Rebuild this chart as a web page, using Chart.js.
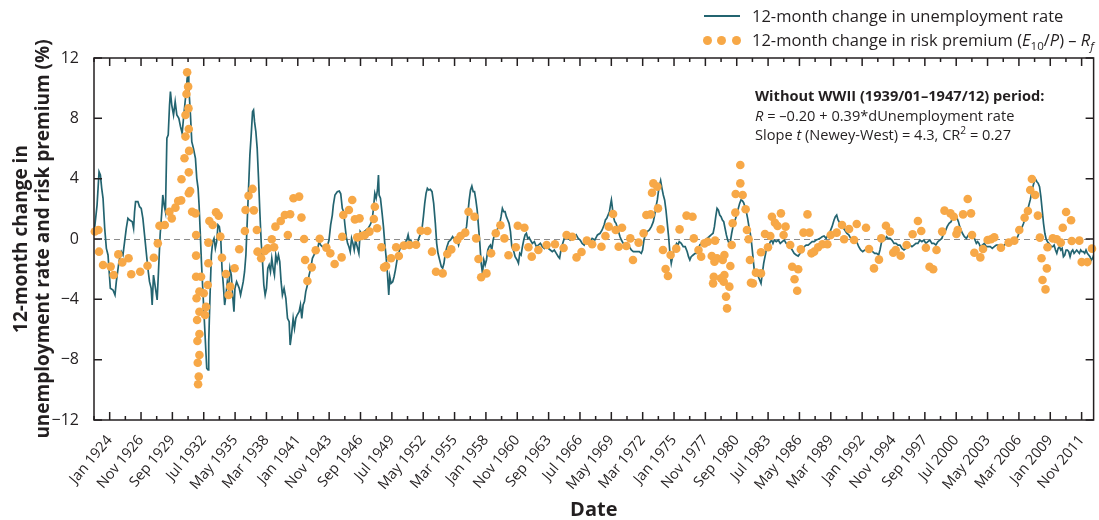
<!DOCTYPE html>
<html lang="en">
  <head>
    <meta charset="UTF-8" />
    <title>Unemployment rate vs risk premium</title>
    <script src="https://cdn.jsdelivr.net/npm/chart.js"></script>
    <style>
      body {
        margin: 0;
        background: #fff;
        font-family: "Open Sans", sans-serif;
        color: #231f20;
      }
      .wrap {
        position: relative;
        width: 1099px;
        height: 520px;
        overflow: hidden;
      }
      .legend-text {
        position: absolute;
        left: 752px;
        font-size: 16.5px;
        line-height: 20px;
        white-space: nowrap;
      }
      .legend-line {
        position: absolute;
        left: 704px;
        top: 15px;
        width: 36px;
        height: 2px;
        background: #236470;
      }
      .legend-dot {
        position: absolute;
        top: 36px;
        width: 9px;
        height: 9px;
        border-radius: 50%;
        background: #f7a847;
      }
      .note {
        position: absolute;
        left: 755px;
        top: 86px;
        font-size: 14.6px;
        line-height: 19.5px;
        white-space: nowrap;
      }
      sub, sup {
        font-size: 70%;
        line-height: 0;
      }
    </style>
  </head>

  <body>
    <div class="wrap">
      <canvas id="chart" width="1099" height="520"></canvas>

      <!-- Legend -->
      <span class="legend-line"></span>
      <div class="legend-text" style="top: 6px">12-month change in unemployment rate</div>
      <span class="legend-dot" style="left: 703px"></span>
      <span class="legend-dot" style="left: 717px"></span>
      <span class="legend-dot" style="left: 732px"></span>
      <div class="legend-text" style="top: 30px">
        12-month change in risk premium (<i>E</i><sub>10</sub>/<i>P</i>) – <i>R</i><sub><i>f</i></sub>
      </div>

      <!-- Regression note -->
      <div class="note">
        <b>Without WWII (1939/01–1947/12) period:</b><br />
        <i>R</i> = –0.20 + 0.39*dUnemployment rate<br />
        Slope <i>t</i> (Newey-West) = 4.3, CR<sup>2</sup> = 0.27
      </div>
    </div>

    <script>
      // Axis range (decimal years): Aug 1922 – Dec 2012
      const xMin = 1922 + 7 / 12;
      const xMax = 2012 + 11 / 12;

      const tickLabels = [
        "Jan 1924", "Nov 1926", "Sep 1929", "Jul 1932", "May 1935", "Mar 1938",
        "Jan 1941", "Nov 1943", "Sep 1946", "Jul 1949", "May 1952", "Mar 1955",
        "Jan 1958", "Nov 1960", "Sep 1963", "Jul 1966", "May 1969", "Mar 1972",
        "Jan 1975", "Nov 1977", "Sep 1980", "Jul 1983", "May 1986", "Mar 1989",
        "Jan 1992", "Nov 1994", "Sep 1997", "Jul 2000", "May 2003", "Mar 2006",
        "Jan 2009", "Nov 2011",
      ];
      const yTicks = [-12, -8, -4, 0, 4, 8, 12];

      // 12-month change in unemployment rate: [year, %]
      const unemploymentChange = [
        [1922.59, 0.4], [1922.86, 2.25], [1923.04, 4.46], [1923.16, 4.24], [1923.28, 3.36],
        [1923.4, 2.7], [1923.55, 0.71], [1923.7, -0.62], [1923.85, -1.06], [1924.06, -3.27],
        [1924.3, -3.38], [1924.48, -3.71], [1924.6, -2.83], [1924.84, -1.5], [1925.05, -0.84],
        [1925.2, -1.06], [1925.35, -0.18], [1925.5, 0.71], [1925.65, 1.37], [1925.8, 1.26],
        [1926.04, 1.15], [1926.16, 0.71], [1926.25, 1.81], [1926.34, 2.48], [1926.55, 2.48],
        [1926.7, 2.14], [1926.85, 2.03], [1927.0, 1.37], [1927.15, 0.27], [1927.3, -0.84],
        [1927.45, -1.94], [1927.6, -2.83], [1927.75, -3.27], [1927.84, -4.38], [1927.96, -2.39],
        [1928.14, -3.27], [1928.29, -4.04], [1928.41, -2.17], [1928.56, 0.27], [1928.71, 1.81],
        [1928.8, 2.92], [1928.92, 2.25], [1929.04, 1.81], [1929.17, 6.68], [1929.29, 6.9],
        [1929.41, 8.88], [1929.49, 9.77], [1929.61, 8.88], [1929.77, 8.22], [1929.92, 9.11],
        [1930.07, 8.22], [1930.25, 8.0], [1930.4, 7.45], [1930.55, 7.01], [1930.7, 8.22],
        [1930.91, 9.77], [1931.0, 10.65], [1931.09, 10.87], [1931.15, 9.99], [1931.21, 9.33],
        [1931.3, 8.22], [1931.42, 6.45], [1931.57, 6.01], [1931.75, 5.35], [1931.87, 4.02],
        [1931.99, 3.36], [1932.08, 2.25], [1932.17, 0.71], [1932.29, -1.5], [1932.41, -3.27],
        [1932.53, -5.04], [1932.65, -6.81], [1932.77, -8.57], [1932.89, -8.68], [1932.95, -6.81],
        [1933.07, -3.71], [1933.19, -1.06], [1933.31, -0.18], [1933.43, 0.04], [1933.55, -0.62],
        [1933.67, -0.18], [1933.79, 0.93], [1933.91, 0.82], [1934.03, 0.16], [1934.15, -1.94],
        [1934.27, -3.05], [1934.39, -4.38], [1934.51, -3.71], [1934.63, -2.83], [1934.75, -3.27],
        [1934.87, -1.94], [1934.99, -2.39], [1935.11, -3.71], [1935.23, -4.82], [1935.32, -3.27],
        [1935.47, -2.83], [1935.59, -3.05], [1935.71, -3.27], [1935.83, -3.71], [1935.95, -3.27],
        [1936.07, -2.83], [1936.19, -2.17], [1936.31, -1.06], [1936.43, 1.15], [1936.55, 3.36],
        [1936.67, 5.57], [1936.79, 6.9], [1936.91, 8.44], [1937.0, 8.55], [1937.09, 7.78],
        [1937.21, 7.12], [1937.33, 6.01], [1937.45, 4.02], [1937.57, 1.81], [1937.69, -0.18],
        [1937.81, -1.5], [1937.93, -3.05], [1938.05, -3.71], [1938.17, -3.27], [1938.29, -1.94],
        [1938.41, -1.72], [1938.53, -2.17], [1938.65, -1.28], [1938.77, -1.94], [1938.89, -2.39],
        [1939.01, -1.06], [1939.13, -1.5], [1939.25, -1.06], [1939.37, -1.5], [1939.49, -2.83],
        [1939.61, -3.71], [1939.76, -3.27], [1939.92, -3.93], [1940.07, -5.26], [1940.22, -5.48],
        [1940.31, -7.03], [1940.43, -6.37], [1940.58, -5.26], [1940.7, -5.92], [1940.82, -5.26],
        [1940.94, -5.04], [1941.12, -4.82], [1941.24, -4.38], [1941.36, -5.26], [1941.48, -4.38],
        [1941.6, -4.15], [1941.72, -3.49], [1941.87, -3.05], [1942.02, -2.39], [1942.17, -1.94],
        [1942.32, -1.28], [1942.47, -1.06], [1942.62, -0.84], [1942.8, -0.62], [1942.92, -0.18],
        [1943.07, -0.4], [1943.22, -0.51], [1943.37, -0.51], [1943.52, -0.4], [1943.7, -0.4],
        [1943.82, -0.07], [1943.97, 0.93], [1944.12, 1.59], [1944.21, 2.25], [1944.36, 2.92],
        [1944.57, 3.14], [1944.75, 3.18], [1944.88, 3.0], [1945.02, 2.03], [1945.14, 1.81],
        [1945.26, 0.93], [1945.38, 0.15], [1945.5, -0.29], [1945.62, -0.51], [1945.74, -0.84],
        [1945.86, 0.04], [1945.98, -0.29], [1946.1, -0.73], [1946.22, -0.07], [1946.37, -0.51],
        [1946.52, -0.95], [1946.64, 0.49], [1946.82, 0.27], [1947.0, 0.49], [1947.18, 0.6],
        [1947.36, 0.71], [1947.54, 0.93], [1947.72, 1.26], [1947.84, 2.03], [1947.96, 3.03],
        [1948.08, 2.7], [1948.2, 3.25], [1948.29, 4.24], [1948.35, 2.92], [1948.47, 2.7],
        [1948.62, 1.7], [1948.74, 0.82], [1948.86, -0.29], [1948.98, -1.17], [1949.1, -2.28],
        [1949.22, -3.71], [1949.31, -2.5], [1949.43, -2.94], [1949.58, -2.83], [1949.7, -2.5],
        [1949.82, -2.06], [1949.97, -1.39], [1950.12, -0.95], [1950.28, -0.51], [1950.43, -0.4],
        [1950.61, -0.51], [1950.73, -0.18], [1950.85, -0.07], [1950.97, 0.27], [1951.09, -0.18],
        [1951.21, -0.07], [1951.39, -0.4], [1951.57, -0.29], [1951.75, -0.4], [1951.93, 0.04],
        [1952.11, 0.38], [1952.23, 0.71], [1952.35, 1.48], [1952.47, 2.36], [1952.59, 3.03],
        [1952.71, 3.36], [1952.83, 3.25], [1952.98, 3.29], [1953.13, 3.14], [1953.28, 2.36],
        [1953.43, 1.04], [1953.55, -0.29], [1953.67, -0.95], [1953.82, -1.39], [1953.97, -1.83],
        [1954.09, -1.94], [1954.21, -1.61], [1954.33, -0.95], [1954.48, -0.51], [1954.63, -0.18],
        [1954.81, -0.07], [1954.99, 0.15], [1955.17, -0.07], [1955.35, 0.04], [1955.53, -0.4],
        [1955.71, 0.15], [1955.89, 0.27], [1956.07, 0.38], [1956.25, 0.82], [1956.37, 1.7],
        [1956.49, 2.59], [1956.61, 3.25], [1956.73, 3.51], [1956.85, 3.14], [1956.97, 3.14],
        [1957.09, 2.59], [1957.21, 1.92], [1957.33, 0.82], [1957.45, -0.29], [1957.57, -1.61],
        [1957.69, -2.28], [1957.81, -1.39], [1957.93, -1.72], [1958.05, -1.39], [1958.17, -0.73],
        [1958.29, -0.51], [1958.41, -0.4], [1958.53, -0.73], [1958.65, -0.07], [1958.77, 0.27],
        [1958.89, 0.38], [1959.01, 0.6], [1959.13, 0.82], [1959.25, 1.04], [1959.37, 1.48],
        [1959.49, 2.03], [1959.61, 1.81], [1959.73, 1.81], [1959.85, 1.48], [1959.97, 1.26],
        [1960.09, 1.04], [1960.22, 0.49], [1960.34, -0.51], [1960.49, -0.73], [1960.64, -1.17],
        [1960.82, -1.39], [1960.94, -1.61], [1961.06, -0.95], [1961.18, -1.06], [1961.3, -0.51],
        [1961.42, -0.07], [1961.54, 0.27], [1961.66, 0.38], [1961.78, 0.04], [1961.9, 0.11],
        [1962.02, -0.07], [1962.2, -0.29], [1962.38, -0.18], [1962.56, -0.51], [1962.74, -0.4],
        [1962.92, -0.29], [1963.1, -0.51], [1963.28, -0.62], [1963.46, -0.4], [1963.64, -0.62],
        [1963.82, -0.73], [1964.0, -0.84], [1964.18, -0.73], [1964.36, -0.95], [1964.54, -1.17],
        [1964.66, -1.28], [1964.78, -0.73], [1964.9, -0.4], [1965.08, 0.04], [1965.26, 0.27],
        [1965.44, 0.04], [1965.62, -0.07], [1965.8, 0.04], [1965.98, 0.15], [1966.16, 0.27],
        [1966.34, 0.04], [1966.52, -0.07], [1966.7, -0.29], [1966.88, -0.4], [1967.06, -0.07],
        [1967.24, -0.29], [1967.42, -0.18], [1967.6, 0.04], [1967.84, -0.07], [1968.08, 0.27],
        [1968.32, 0.38], [1968.5, 0.6], [1968.68, 0.93], [1968.8, 1.26], [1968.92, 1.37],
        [1969.04, 1.59], [1969.16, 1.81], [1969.28, 2.36], [1969.34, 2.59], [1969.4, 2.25],
        [1969.52, 1.48], [1969.64, 1.15], [1969.76, 1.04], [1969.94, 0.6], [1970.12, 0.15],
        [1970.24, -0.07], [1970.42, -0.29], [1970.6, -0.4], [1970.78, -0.29], [1970.96, -0.51],
        [1971.14, -0.73], [1971.32, -0.84], [1971.5, -0.84], [1971.68, -0.84], [1971.86, -0.84],
        [1972.04, -0.95], [1972.16, -0.73], [1972.28, -0.07], [1972.4, 0.27], [1972.58, 0.49],
        [1972.77, 0.6], [1972.95, 0.82], [1973.13, 1.15], [1973.25, 1.59], [1973.37, 2.14],
        [1973.49, 2.59], [1973.61, 3.25], [1973.73, 3.69], [1973.79, 3.87], [1973.91, 3.36],
        [1974.03, 2.92], [1974.15, 2.59], [1974.27, 1.92], [1974.39, 1.04], [1974.51, 0.15],
        [1974.63, -0.95], [1974.75, -1.61], [1974.87, -1.17], [1974.99, -0.73], [1975.11, -0.51],
        [1975.23, -0.29], [1975.35, -0.4], [1975.47, -0.18], [1975.65, -0.29], [1975.83, -0.51],
        [1976.01, -0.51], [1976.19, -0.84], [1976.31, -1.17], [1976.43, -1.39], [1976.55, -1.17],
        [1976.73, -1.06], [1976.91, -0.95], [1977.03, -0.95], [1977.15, -0.73], [1977.33, -0.4],
        [1977.45, -0.29], [1977.63, -0.18], [1977.81, -0.07], [1977.99, 0.04], [1978.17, 0.15],
        [1978.35, 0.27], [1978.53, 0.38], [1978.65, 0.82], [1978.77, 1.48], [1978.89, 2.03],
        [1979.01, 1.92], [1979.13, 1.59], [1979.25, 1.48], [1979.37, 1.26], [1979.49, 1.15],
        [1979.61, 0.71], [1979.73, 0.27], [1979.85, -0.07], [1979.97, -0.29], [1980.09, -0.18],
        [1980.21, 0.38], [1980.33, 0.82], [1980.45, 1.15], [1980.57, 1.37], [1980.69, 1.7],
        [1980.81, 2.03], [1980.93, 2.36], [1981.05, 2.59], [1981.17, 2.54], [1981.29, 2.41],
        [1981.41, 2.14], [1981.53, 1.81], [1981.65, 1.37], [1981.77, 0.82], [1981.89, 0.38],
        [1982.01, -0.29], [1982.13, -1.17], [1982.25, -2.06], [1982.37, -2.39], [1982.49, -2.28],
        [1982.62, -2.5], [1982.74, -2.72], [1982.86, -2.94], [1982.98, -2.28], [1983.1, -1.61],
        [1983.22, -1.17], [1983.34, -0.73], [1983.46, -0.51], [1983.58, -0.4], [1983.7, -0.18],
        [1983.82, -0.07], [1983.94, -0.29], [1984.06, -0.07], [1984.24, -0.18], [1984.42, -0.07],
        [1984.6, -0.29], [1984.78, -0.18], [1984.96, -0.07], [1985.14, -0.29], [1985.32, -0.4],
        [1985.5, -0.51], [1985.68, -0.73], [1985.86, -0.95], [1986.04, -1.06], [1986.22, -1.13],
        [1986.4, -0.95], [1986.58, -0.73], [1986.76, -0.51], [1986.94, -0.4], [1987.12, -0.4],
        [1987.3, -0.29], [1987.48, -0.18], [1987.66, -0.18], [1987.84, -0.07], [1988.02, -0.02],
        [1988.2, 0.04], [1988.38, 0.15], [1988.56, 0.2], [1988.74, 0.04], [1988.92, 0.27],
        [1989.1, 0.49], [1989.28, 0.82], [1989.46, 1.26], [1989.58, 1.48], [1989.7, 1.59],
        [1989.82, 1.26], [1989.92, 1.15], [1990.07, 0.82], [1990.25, 0.77], [1990.43, 0.6],
        [1990.61, 0.38], [1990.79, 0.27], [1990.97, 0.04], [1991.15, 0.04], [1991.33, -0.07],
        [1991.51, -0.18], [1991.69, -0.51], [1991.87, -0.73], [1992.05, -0.84], [1992.23, -0.73],
        [1992.41, -0.73], [1992.59, -0.84], [1992.77, -0.73], [1992.95, -0.84], [1993.13, -0.95],
        [1993.31, -0.95], [1993.49, -1.06], [1993.61, -0.73], [1993.73, -0.29], [1993.85, 0.04],
        [1994.03, -0.07], [1994.21, 0.15], [1994.33, 0.04], [1994.51, 0.04], [1994.69, -0.07],
        [1994.88, -0.29], [1995.06, -0.29], [1995.24, -0.4], [1995.42, -0.4], [1995.6, -0.62],
        [1995.78, -0.73], [1995.96, -0.62], [1996.14, -0.51], [1996.32, -0.4], [1996.5, -0.51],
        [1996.68, -0.4], [1996.86, -0.29], [1997.04, -0.29], [1997.22, -0.07], [1997.4, -0.18],
        [1997.58, -0.07], [1997.76, -0.29], [1997.94, -0.18], [1998.12, -0.07], [1998.3, -0.29],
        [1998.48, -0.29], [1998.66, -0.4], [1998.84, -0.18], [1999.02, -0.07], [1999.2, 0.04],
        [1999.32, 0.27], [1999.44, 0.49], [1999.56, 0.6], [1999.68, 0.82], [1999.86, 1.04],
        [2000.04, 1.15], [2000.22, 1.48], [2000.34, 1.59], [2000.46, 1.59], [2000.58, 1.37],
        [2000.7, 1.15], [2000.82, 0.82], [2000.94, 0.6], [2001.06, 0.38], [2001.24, 0.15],
        [2001.42, 0.04], [2001.6, 0.27], [2001.72, 0.38], [2001.84, 0.38], [2001.96, 0.27],
        [2002.08, 0.15], [2002.2, -0.07], [2002.32, -0.29], [2002.44, -0.18], [2002.56, -0.29],
        [2002.68, -0.51], [2002.86, -0.4], [2003.04, -0.29], [2003.22, -0.51], [2003.4, -0.51],
        [2003.58, -0.51], [2003.76, -0.62], [2003.94, -0.51], [2004.12, -0.4], [2004.3, -0.4],
        [2004.48, -0.51], [2004.66, -0.51], [2004.84, -0.4], [2005.02, -0.29], [2005.21, -0.29],
        [2005.39, -0.18], [2005.57, -0.18], [2005.75, -0.07], [2005.93, 0.04], [2006.05, 0.15],
        [2006.17, 0.38], [2006.29, 0.6], [2006.47, 0.82], [2006.59, 1.04], [2006.77, 1.48],
        [2006.95, 1.92], [2007.07, 2.25], [2007.19, 2.59], [2007.31, 3.03], [2007.43, 3.47],
        [2007.55, 3.8], [2007.67, 3.96], [2007.79, 3.8], [2007.91, 3.69], [2008.03, 3.47],
        [2008.15, 2.81], [2008.27, 1.92], [2008.39, 1.04], [2008.51, 0.38], [2008.63, -0.02],
        [2008.75, -0.18], [2008.87, -0.29], [2008.99, -0.4], [2009.11, -0.51], [2009.23, -0.51],
        [2009.35, -0.4], [2009.47, -0.73], [2009.59, -0.95], [2009.71, -0.62], [2009.83, -0.51],
        [2009.95, -0.73], [2010.07, -0.62], [2010.19, -1.17], [2010.31, -1.06], [2010.43, -0.73],
        [2010.55, -0.73], [2010.67, -0.84], [2010.79, -1.17], [2010.91, -0.84], [2011.03, -0.73],
        [2011.15, -0.95], [2011.27, -0.84], [2011.39, -0.73], [2011.51, -0.84], [2011.63, -0.95],
        [2011.75, -0.73], [2011.87, -0.84], [2011.99, -0.84], [2012.11, -0.95], [2012.23, -0.73],
        [2012.35, -0.95], [2012.47, -1.06], [2012.59, -1.17], [2012.71, -1.39], [2012.83, -1.28],
        [2012.92, -1.06],
      ];

      // 12-month change in risk premium (E10/P) - Rf: [year, %]
      const riskPremiumChange = [
        [1922.66, 0.5], [1922.98, 0.6], [1923.04, -0.84], [1923.4, -1.72], [1924.09, -1.83],
        [1924.36, -2.39], [1924.78, -1.02], [1925.14, -1.55], [1925.71, -1.28], [1925.95, -2.34],
        [1926.76, -2.17], [1927.42, -1.77], [1927.99, -1.24], [1928.35, -0.29], [1928.5, 0.88],
        [1928.98, 0.93], [1929.4, 1.81], [1929.61, 1.37], [1929.94, 2.08], [1930.19, 2.52],
        [1930.46, 2.56], [1930.49, 3.96], [1930.76, 5.35], [1930.85, 6.79], [1930.85, 8.22],
        [1930.94, 9.61], [1931.0, 11.05], [1931.09, 10.1], [1931.12, 8.66], [1931.15, 7.29],
        [1931.18, 5.84], [1931.15, 4.42], [1931.15, 3.03], [1931.27, 3.18], [1931.45, 1.81],
        [1931.75, 1.7], [1931.81, 0.27], [1931.81, -1.1], [1931.81, -2.5], [1931.85, -3.93],
        [1931.9, -5.37], [1931.93, -6.76], [1931.96, -8.2], [1931.99, -9.63], [1932.05, -9.12],
        [1932.11, -7.69], [1932.11, -6.3], [1932.11, -4.82], [1932.11, -3.48], [1932.26, -2.5],
        [1932.5, -3.6], [1932.62, -5.04], [1932.71, -4.5], [1932.86, -3.05], [1932.92, -1.61],
        [1932.92, -0.24], [1933.01, 1.19], [1933.31, 0.93], [1933.61, 1.77], [1933.85, 1.55],
        [1934.0, 0.16], [1934.15, -1.24], [1934.51, -2.32], [1934.75, -3.71], [1934.9, -3.16],
        [1935.29, -1.94], [1935.71, -0.68], [1936.22, 0.53], [1936.28, 1.92], [1936.55, 2.87],
        [1936.91, 3.32], [1937.03, 1.9], [1937.3, 0.6], [1937.36, -0.84], [1937.69, -1.28],
        [1938.02, -0.79], [1938.29, -0.62], [1938.65, -0.02], [1938.86, -0.55], [1938.98, 0.82],
        [1939.46, 1.19], [1939.83, 1.59], [1940.1, 0.27], [1940.31, 1.64], [1940.61, 2.7],
        [1941.12, 2.81], [1941.33, 1.42], [1941.57, 0.0], [1941.66, -1.39], [1941.87, -2.78],
        [1942.26, -1.88], [1942.62, -0.75], [1942.98, 0.02], [1943.58, -0.57], [1943.94, -0.95],
        [1944.33, -1.66], [1944.96, -1.22], [1945.02, 0.15], [1945.11, 1.59], [1945.62, 1.92],
        [1945.92, 2.59], [1946.16, 1.3], [1946.37, 0.11], [1946.58, 1.37], [1946.76, 0.2],
        [1947.06, 0.26], [1947.48, 0.49], [1947.87, 1.33], [1947.96, 2.14], [1948.17, 0.71],
        [1948.56, -0.55], [1948.8, -1.88], [1948.98, -1.79], [1949.43, -1.28], [1949.89, -0.55],
        [1950.13, -1.13], [1950.58, -0.44], [1951.09, -0.4], [1951.69, -0.38], [1952.11, 0.55],
        [1952.71, 0.53], [1953.13, -0.84], [1953.49, -2.17], [1954.09, -2.28], [1954.51, -1.0],
        [1954.87, -0.69], [1955.41, -0.07], [1955.71, 0.2], [1956.13, 0.42], [1956.43, 1.81],
        [1956.97, 1.48], [1957.12, 0.04], [1957.33, -1.33], [1957.57, -2.54], [1958.05, -2.28],
        [1958.47, -0.95], [1958.89, 0.38], [1959.31, 0.91], [1959.67, 0.04], [1960.04, -1.08],
        [1960.7, -0.55], [1960.88, 0.88], [1961.48, 0.75], [1961.84, -0.55], [1962.14, -1.17],
        [1962.74, -0.73], [1963.49, -0.4], [1964.24, -0.35], [1965.02, -0.6], [1965.29, 0.26],
        [1965.8, 0.15], [1966.19, -1.22], [1966.64, -0.86], [1967.12, -0.11], [1967.6, -0.35],
        [1968.44, -0.51], [1968.8, 0.2], [1969.1, 0.82], [1969.49, 1.66], [1969.73, 0.6],
        [1970.0, -0.51], [1970.3, 0.75], [1970.69, -0.46], [1971.05, 0.04], [1971.29, -1.39],
        [1971.8, -0.24], [1972.25, 0.38], [1972.5, 1.59], [1972.89, 1.63], [1973.01, 3.07],
        [1973.13, 3.69], [1973.49, 3.47], [1973.55, 2.03], [1973.79, 0.64], [1974.0, -0.73],
        [1974.24, -1.99], [1974.45, -2.45], [1974.69, -1.06], [1975.2, -0.64], [1975.5, 0.64],
        [1976.13, 1.55], [1976.67, 1.48], [1976.79, 0.04], [1977.21, -0.73], [1977.45, -1.17],
        [1977.75, -0.29], [1978.05, -0.18], [1978.41, -1.13], [1978.53, -2.94], [1978.59, -2.5],
        [1978.65, -1.5], [1978.71, -0.11], [1978.89, -1.28], [1979.25, -2.61], [1979.4, -1.39],
        [1979.49, -2.83], [1979.55, -2.39], [1979.55, -1.06], [1979.7, -3.82], [1979.79, -4.6],
        [1980.0, -3.16], [1980.09, -1.79], [1980.21, -0.4], [1980.3, 1.04], [1980.54, 1.75],
        [1980.57, 2.98], [1980.99, 3.69], [1980.99, 4.91], [1981.2, 2.92], [1981.47, 1.97],
        [1981.59, 0.6], [1981.74, -0.02], [1981.86, -1.39], [1981.95, -2.9], [1982.13, -2.94],
        [1982.4, -2.23], [1982.86, -2.28], [1982.86, -0.88], [1983.22, 0.33], [1983.49, -0.55],
        [1983.7, 0.2], [1983.85, 1.48], [1984.12, 1.08], [1984.36, 0.86], [1984.66, 1.7],
        [1984.9, 0.26], [1985.08, 0.82], [1985.5, -0.4], [1985.68, -1.84], [1985.89, -2.67],
        [1986.13, -3.43], [1986.22, -2.01], [1986.46, -0.69], [1986.7, 0.42], [1987.06, 1.63],
        [1987.24, 0.42], [1987.42, -0.95], [1987.66, -0.84], [1988.02, -0.55], [1988.41, -0.35],
        [1988.86, -0.35], [1989.16, 0.26], [1989.7, 0.42], [1990.18, 0.93], [1990.37, -0.02],
        [1990.82, 0.66], [1991.27, -0.07], [1991.51, 0.99], [1992.35, 0.75], [1992.62, -0.66],
        [1993.07, -1.95], [1993.52, -1.37], [1993.73, 0.04], [1994.15, 0.88], [1994.51, 0.49],
        [1994.81, -0.91], [1995.03, -0.73], [1995.48, -1.11], [1996.02, -0.4], [1996.56, 0.31],
        [1997.04, 1.19], [1997.34, 0.53], [1997.76, -0.58], [1998.09, -1.84], [1998.42, -2.01],
        [1998.72, -0.73], [1999.23, 0.49], [1999.44, 1.88], [1999.98, 1.7], [2000.28, 1.48],
        [2000.52, 0.33], [2000.64, 0.6], [2001.12, 1.63], [2001.54, 2.65], [2001.84, 1.7],
        [2001.93, 0.26], [2002.14, -0.91], [2002.68, -1.22], [2002.92, -0.66], [2003.34, -0.07],
        [2003.64, -0.02], [2003.94, 0.11], [2004.54, -0.58], [2005.24, -0.24], [2005.75, -0.11],
        [2006.2, 0.6], [2006.68, 1.41], [2006.98, 1.86], [2007.19, 3.25], [2007.34, 3.98],
        [2007.64, 2.92], [2007.88, 1.55], [2008.06, 0.09], [2008.21, -1.28], [2008.3, -2.72],
        [2008.57, -3.34], [2008.69, -1.95], [2008.75, -0.55], [2009.23, 0.04], [2009.59, -0.02],
        [2009.95, -0.24], [2010.13, 0.75], [2010.43, 1.79], [2010.88, 1.24], [2010.94, -0.13],
        [2011.63, -0.11], [2011.84, -1.53], [2012.35, -1.53], [2012.77, -0.64],
      ];

      const monthNames = ["Jan", "Feb", "Mar", "Apr", "May", "Jun",
                          "Jul", "Aug", "Sep", "Oct", "Nov", "Dec"];
      // "Nov 1926" -> 1926.833
      function labelToYear(label) {
        const [m, y] = label.split(" ");
        return Number(y) + monthNames.indexOf(m) / 12;
      }
      const majorTicks = tickLabels.map(labelToYear);
      // minor ticks sit halfway between the labelled ones
      const minorTicks = majorTicks.slice(0, -1).map((v, i) => (v + majorTicks[i + 1]) / 2);
      minorTicks.unshift(majorTicks[0] - (majorTicks[1] - majorTicks[0]) / 2);

      const ink = "#231f20";

      // dashed zero line
      const zeroLine = {
        id: "zeroLine",
        beforeDatasetsDraw(chart) {
          const { ctx, chartArea, scales } = chart;
          const y = Math.round(scales.y.getPixelForValue(0)) + 0.5;
          ctx.save();
          ctx.strokeStyle = "#8c8c8c";
          ctx.lineWidth = 1.2;
          ctx.setLineDash([6, 4]);
          ctx.beginPath();
          ctx.moveTo(chartArea.left, y);
          ctx.lineTo(chartArea.right, y);
          ctx.stroke();
          ctx.restore();
        },
      };

      // box around the plot with inward tick marks on all four sides
      const frame = {
        id: "frame",
        afterDraw(chart) {
          const { ctx, chartArea: a, scales } = chart;
          ctx.save();
          ctx.strokeStyle = ink;
          ctx.lineWidth = 1.5;
          ctx.strokeRect(a.left, a.top, a.right - a.left, a.bottom - a.top);
          ctx.beginPath();
          yTicks.forEach((v) => {
            const y = scales.y.getPixelForValue(v);
            ctx.moveTo(a.left, y);
            ctx.lineTo(a.left + 8, y);
            ctx.moveTo(a.right, y);
            ctx.lineTo(a.right - 8, y);
          });
          const xTick = (v, len) => {
            const x = scales.x.getPixelForValue(v);
            if (x < a.left || x > a.right) return;
            ctx.moveTo(x, a.bottom);
            ctx.lineTo(x, a.bottom - len);
            ctx.moveTo(x, a.top);
            ctx.lineTo(x, a.top + len);
          };
          majorTicks.forEach((v) => xTick(v, 8));
          minorTicks.forEach((v) => xTick(v, 4));
          ctx.stroke();
          ctx.restore();
        },
      };

      new Chart(document.getElementById("chart"), {
        type: "scatter",
        data: {
          datasets: [
            {
              type: "line",
              label: "12-month change in unemployment rate",
              data: unemploymentChange.map(([x, y]) => ({ x, y })),
              borderColor: "#236470",
              borderWidth: 1.7,
              pointRadius: 0,
              tension: 0,
              fill: false,
              order: 2,
            },
            {
              label: "12-month change in risk premium",
              data: riskPremiumChange.map(([x, y]) => ({ x, y })),
              backgroundColor: "#f7a847",
              borderWidth: 0,
              pointRadius: 4.3,
              clip: false,
              order: 1,
            },
          ],
        },
        options: {
          responsive: false,
          animation: false,
          devicePixelRatio: 1,
          layout: { padding: { top: 58, right: 2, left: 0, bottom: 0 } },
          plugins: {
            legend: { display: false },
            tooltip: { enabled: false },
          },
          scales: {
            x: {
              type: "linear",
              min: xMin,
              max: xMax,
              grid: { display: false },
              border: { display: false },
              afterBuildTicks(scale) {
                scale.ticks = majorTicks.map((value) => ({ value }));
              },
              afterFit(scale) {
                scale.height = 100;
              },
              ticks: {
                autoSkip: false,
                minRotation: 50,
                maxRotation: 50,
                padding: 4,
                color: ink,
                font: { family: "Open Sans", size: 14.5 },
                callback: (v, i) => tickLabels[i],
              },
              title: {
                display: true,
                text: "Date",
                color: ink,
                font: { family: "Open Sans", size: 20, weight: "bold", lineHeight: 1 },
                padding: { top: 0, bottom: 0 },
              },
            },
            y: {
              min: -12,
              max: 12,
              grid: { display: false },
              border: { display: false },
              afterFit(scale) {
                scale.width = 94;
              },
              ticks: {
                stepSize: 4,
                padding: 7,
                color: ink,
                font: { family: "Open Sans", size: 16 },
                callback: (v) => (v < 0 ? "\u2212" + Math.abs(v) : String(v)),
              },
              title: {
                display: true,
                text: ["12-month change in", "unemployment rate and risk premium (%)"],
                color: ink,
                font: { family: "Open Sans", size: 19, weight: "bold", lineHeight: 1.15 },
                padding: { top: 11, bottom: 0 },
              },
            },
          },
        },
        plugins: [zeroLine, frame],
      });
    </script>
  </body>
</html>
